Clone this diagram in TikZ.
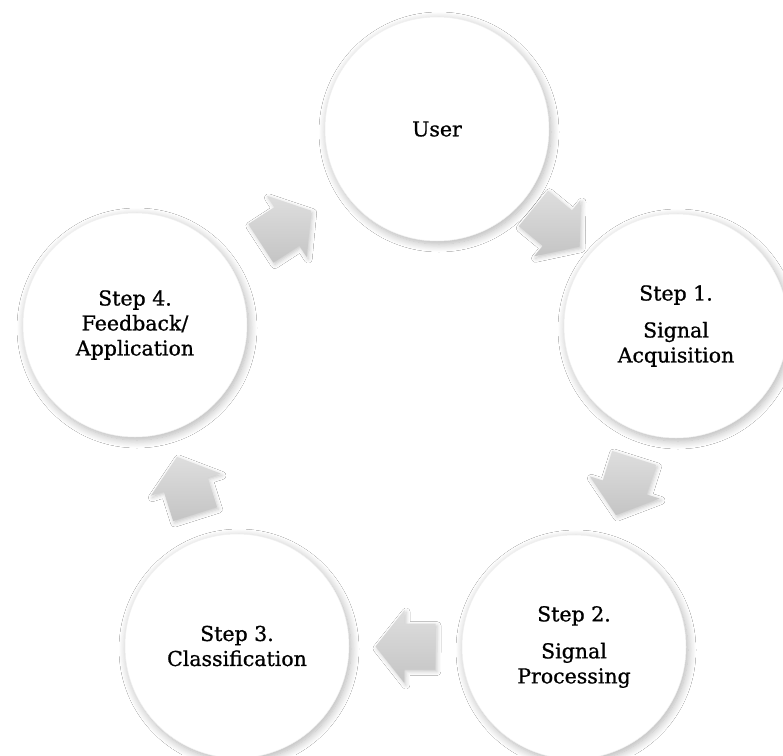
\documentclass[tikz,border=0pt]{standalone}
\usepackage{fontspec}
\setmainfont{DejaVu Serif}
\newfontfamily\lblfont{DejaVu Serif}[FakeBold=0.9]
\usetikzlibrary{calc,shadows.blur}
\begin{document}
\begin{tikzpicture}[x=1pt,y=-1pt,
  stage/.style={circle, fill=white, draw=black!6, line width=0.5pt,
    minimum size=224pt, inner sep=0pt, align=center,
    font=\lblfont\fontsize{20.5}{25}\selectfont, text=black,
    blur shadow={shadow xshift=2pt, shadow yshift=-3pt,
      shadow blur radius=8pt, shadow blur steps=10, shadow opacity=30}},
  arrowshade/.style={top color=gray!26, bottom color=gray!46, draw=none,
    blur shadow={shadow xshift=1.5pt, shadow yshift=-2pt,
      shadow blur radius=4pt, shadow opacity=22}},
  cyclearr/.pic={\shade[arrowshade] (30,0) -- (1,36.5) -- (1,23) -- (-30,23)
    -- (-30,-23) -- (1,-23) -- (1,-36.5) -- cycle;}
]
\fill[white] (0,0) rectangle (783,755);
\useasboundingbox (0,0) rectangle (783,755);
\node[stage] (user) at (437,129) {User};
\node[stage] (s1) at (676,326) {Step 1.\\[12pt]Signal\\Acquisition};
\node[stage] (s2) at (574,647) {Step 2.\\[12pt]Signal\\Processing};
\node[stage] (s3) at (237,646) {Step 3.\\Classification};
\node[stage] (s4) at (135,325) {Step 4.\\Feedback/\\Application};
\foreach \a/\b in {user/s1, s1/s2, s2/s3, s3/s4, s4/user}
  \path let \p1=($(\b)-(\a)$), \n1={atan2(\y1,\x1)} in
    pic[rotate=\n1] at ($(\a)!0.5!(\b)$) {cyclearr};
\end{tikzpicture}
\end{document}
